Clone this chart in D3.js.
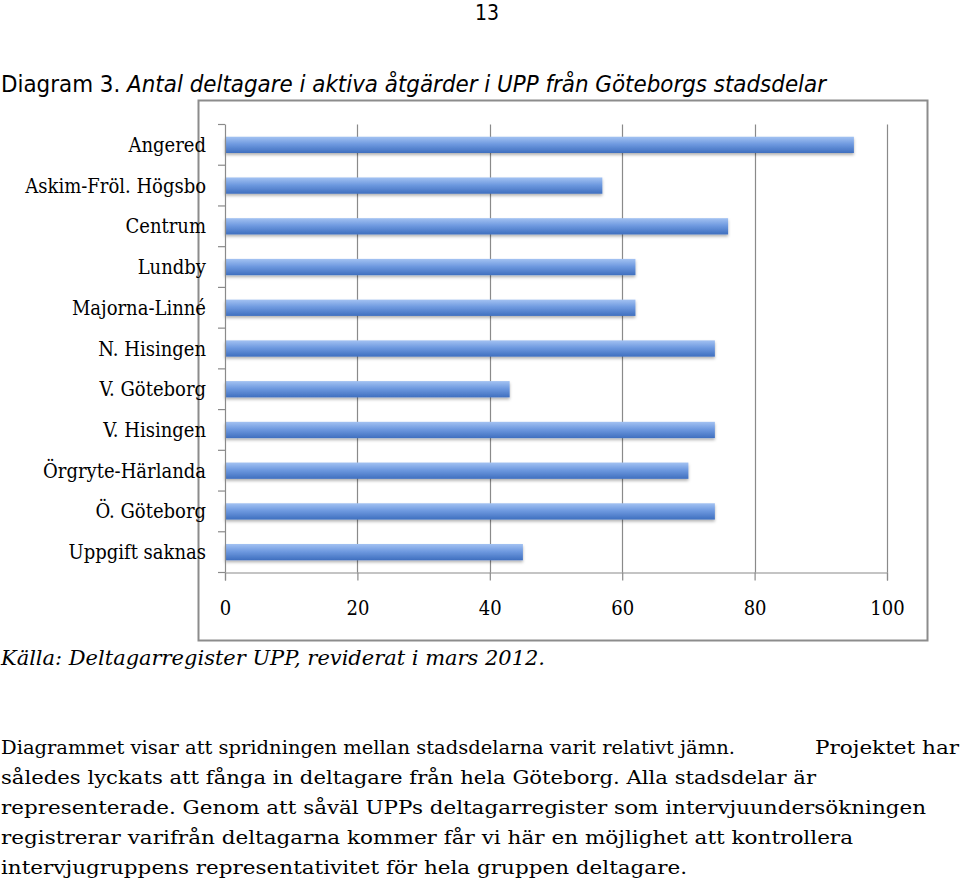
<!DOCTYPE html>
<html>
<head>
<meta charset="utf-8">
<script src="https://cdn.jsdelivr.net/npm/d3@7"></script>
<style>
  body { margin: 0; background: #fff; }
  .chart { width: 960px; height: 886px; }
  text { fill: #000; }
</style>
</head>
<body>
<div class="chart"></div>
<script>
var categories = ["Angered", "Askim-Fröl. Högsbo", "Centrum", "Lundby", "Majorna-Linné",
  "N. Hisingen", "V. Göteborg", "V. Hisingen", "Örgryte-Härlanda", "Ö. Göteborg", "Uppgift saknas"];
var values = [95, 57, 76, 62, 62, 74, 43, 74, 70, 74, 45];
var xTicks = [0, 20, 40, 60, 80, 100];

var bodyLines = [
  ["Diagrammet visar att spridningen mellan stadsdelarna varit relativt jämn.", 735],
  ["Projektet har", 144],
  ["således lyckats att fånga in deltagare från hela Göteborg. Alla stadsdelar är", 815],
  ["representerade. Genom att såväl UPPs deltagarregister som intervjuundersökningen", 925],
  ["registrerar varifrån deltagarna kommer får vi här en möjlighet att kontrollera", 852],
  ["intervjugruppens representativitet för hela gruppen deltagare.", 686]
];

function drawChart() {
  var svg = d3.select(".chart").html("").append("svg")
      .attr("width", 960).attr("height", 886);

  var defs = svg.append("defs");
  var grad = defs.append("linearGradient").attr("id", "barGrad")
      .attr("x1", 0).attr("y1", 0).attr("x2", 0).attr("y2", 1);
  grad.append("stop").attr("offset", "0%").attr("stop-color", "#a3c2f2");
  grad.append("stop").attr("offset", "45%").attr("stop-color", "#6f9ae0");
  grad.append("stop").attr("offset", "100%").attr("stop-color", "#3f6fbf");
  var shadow = defs.append("filter").attr("id", "shadow")
      .attr("x", "-5%").attr("y", "-30%").attr("width", "110%").attr("height", "180%");
  shadow.append("feDropShadow").attr("dx", 0).attr("dy", 2).attr("stdDeviation", 1.5)
      .attr("flood-color", "#000").attr("flood-opacity", 0.3);

  // page number and caption
  svg.append("text").attr("x", 487).attr("y", 20).attr("text-anchor", "middle")
      .style("font-family", "'Liberation Sans Narrow', 'DejaVu Sans Condensed', sans-serif")
      .style("font-size", "21px").text("13");

  var title = svg.append("text").attr("x", 1).attr("y", 92)
      .attr("textLength", 825).attr("lengthAdjust", "spacingAndGlyphs")
      .style("font-family", "'Liberation Sans Narrow', 'DejaVu Sans Condensed', sans-serif")
      .style("font-size", "23px");
  title.append("tspan").text("Diagram 3. ");
  title.append("tspan").style("font-style", "italic")
      .text("Antal deltagare i aktiva åtgärder i UPP från Göteborgs stadsdelar");

  // chart frame
  svg.append("rect").attr("x", 198.5).attr("y", 100.5).attr("width", 729).attr("height", 540)
      .attr("fill", "#fff").attr("stroke", "#8c8c8c").attr("stroke-width", 2);

  var margin = {top: 124.5, left: 225},
      width = 662, height = 448;

  var x = d3.scaleLinear().domain([0, 100]).range([0, width]),
      y = d3.scaleBand().domain(categories).range([0, height]).paddingInner(0.6).paddingOuter(0.3);

  var g = svg.append("g")
      .attr("transform", "translate(" + margin.left + "," + margin.top + ")");

  // vertical gridlines
  g.selectAll(".grid").data(xTicks.slice(1)).enter().append("line")
      .attr("x1", function(d) { return Math.round(x(d)) + 0.5; })
      .attr("x2", function(d) { return Math.round(x(d)) + 0.5; })
      .attr("y1", 0).attr("y2", height)
      .attr("stroke", "#8a8a8a").attr("stroke-width", 1.2);

  // bars
  g.selectAll(".bar").data(values).enter().append("rect")
      .attr("class", "bar")
      .attr("x", 0)
      .attr("y", function(d, i) { return y(categories[i]); })
      .attr("width", function(d) { return x(d); })
      .attr("height", y.bandwidth())
      .attr("fill", "url(#barGrad)")
      .attr("filter", "url(#shadow)");

  // y axis: line + ticks between categories
  var yAxisG = g.append("g").attr("class", "axis axis-y");
  yAxisG.append("line").attr("x1", 0.5).attr("x2", 0.5).attr("y1", 0).attr("y2", height)
      .attr("stroke", "#8a8a8a").attr("stroke-width", 1.2);
  yAxisG.selectAll(".ytick").data(d3.range(categories.length + 1)).enter().append("line")
      .attr("x1", -7).attr("x2", 0)
      .attr("y1", function(i) { return i * height / categories.length; })
      .attr("y2", function(i) { return i * height / categories.length; })
      .attr("stroke", "#8a8a8a").attr("stroke-width", 1.2);
  yAxisG.selectAll(".ylabel").data(categories).enter().append("text")
      .attr("x", -19)
      .attr("y", function(d) { return y(d) + y.bandwidth() / 2; })
      .attr("dy", "0.35em")
      .attr("text-anchor", "end")
      .style("font-family", "'DejaVu Serif Condensed', 'Liberation Serif', serif")
      .style("font-size", "20px")
      .text(function(d) { return d; });

  // x axis
  var xAxis = g.append("g")
      .attr("class", "axis axis-x")
      .attr("transform", "translate(0," + height + ")")
      .call(d3.axisBottom(x).tickValues(xTicks).tickSize(8).tickPadding(20));
  xAxis.select(".domain").attr("stroke", "#8a8a8a").attr("stroke-width", 1.2);
  xAxis.selectAll(".tick line").attr("stroke", "#8a8a8a").attr("stroke-width", 1.2);
  xAxis.selectAll(".tick text")
      .style("font-family", "'DejaVu Serif Condensed', 'Liberation Serif', serif")
      .style("font-size", "20px").attr("fill", "#000");

  // source
  svg.append("text").attr("x", 1).attr("y", 665)
      .attr("textLength", 544).attr("lengthAdjust", "spacingAndGlyphs")
      .style("font-family", "'DejaVu Serif', serif").style("font-style", "italic")
      .style("font-size", "20px")
      .text("Källa: Deltagarregister UPP, reviderat i mars 2012.");

  // body text
  var body = svg.append("g")
      .style("font-family", "'DejaVu Serif', serif").style("font-size", "19px");
  body.append("text").attr("x", 1).attr("y", 754)
      .attr("textLength", 734).attr("lengthAdjust", "spacingAndGlyphs").text(bodyLines[0][0]);
  body.append("text").attr("x", 815).attr("y", 754)
      .attr("textLength", bodyLines[1][1]).attr("lengthAdjust", "spacingAndGlyphs")
      .text(bodyLines[1][0]);
  bodyLines.slice(2).forEach(function(l, i) {
    body.append("text").attr("x", 1).attr("y", 784 + i * 30)
        .attr("textLength", l[1]).attr("lengthAdjust", "spacingAndGlyphs").text(l[0]);
  });
}

drawChart();
</script>
</body>
</html>
